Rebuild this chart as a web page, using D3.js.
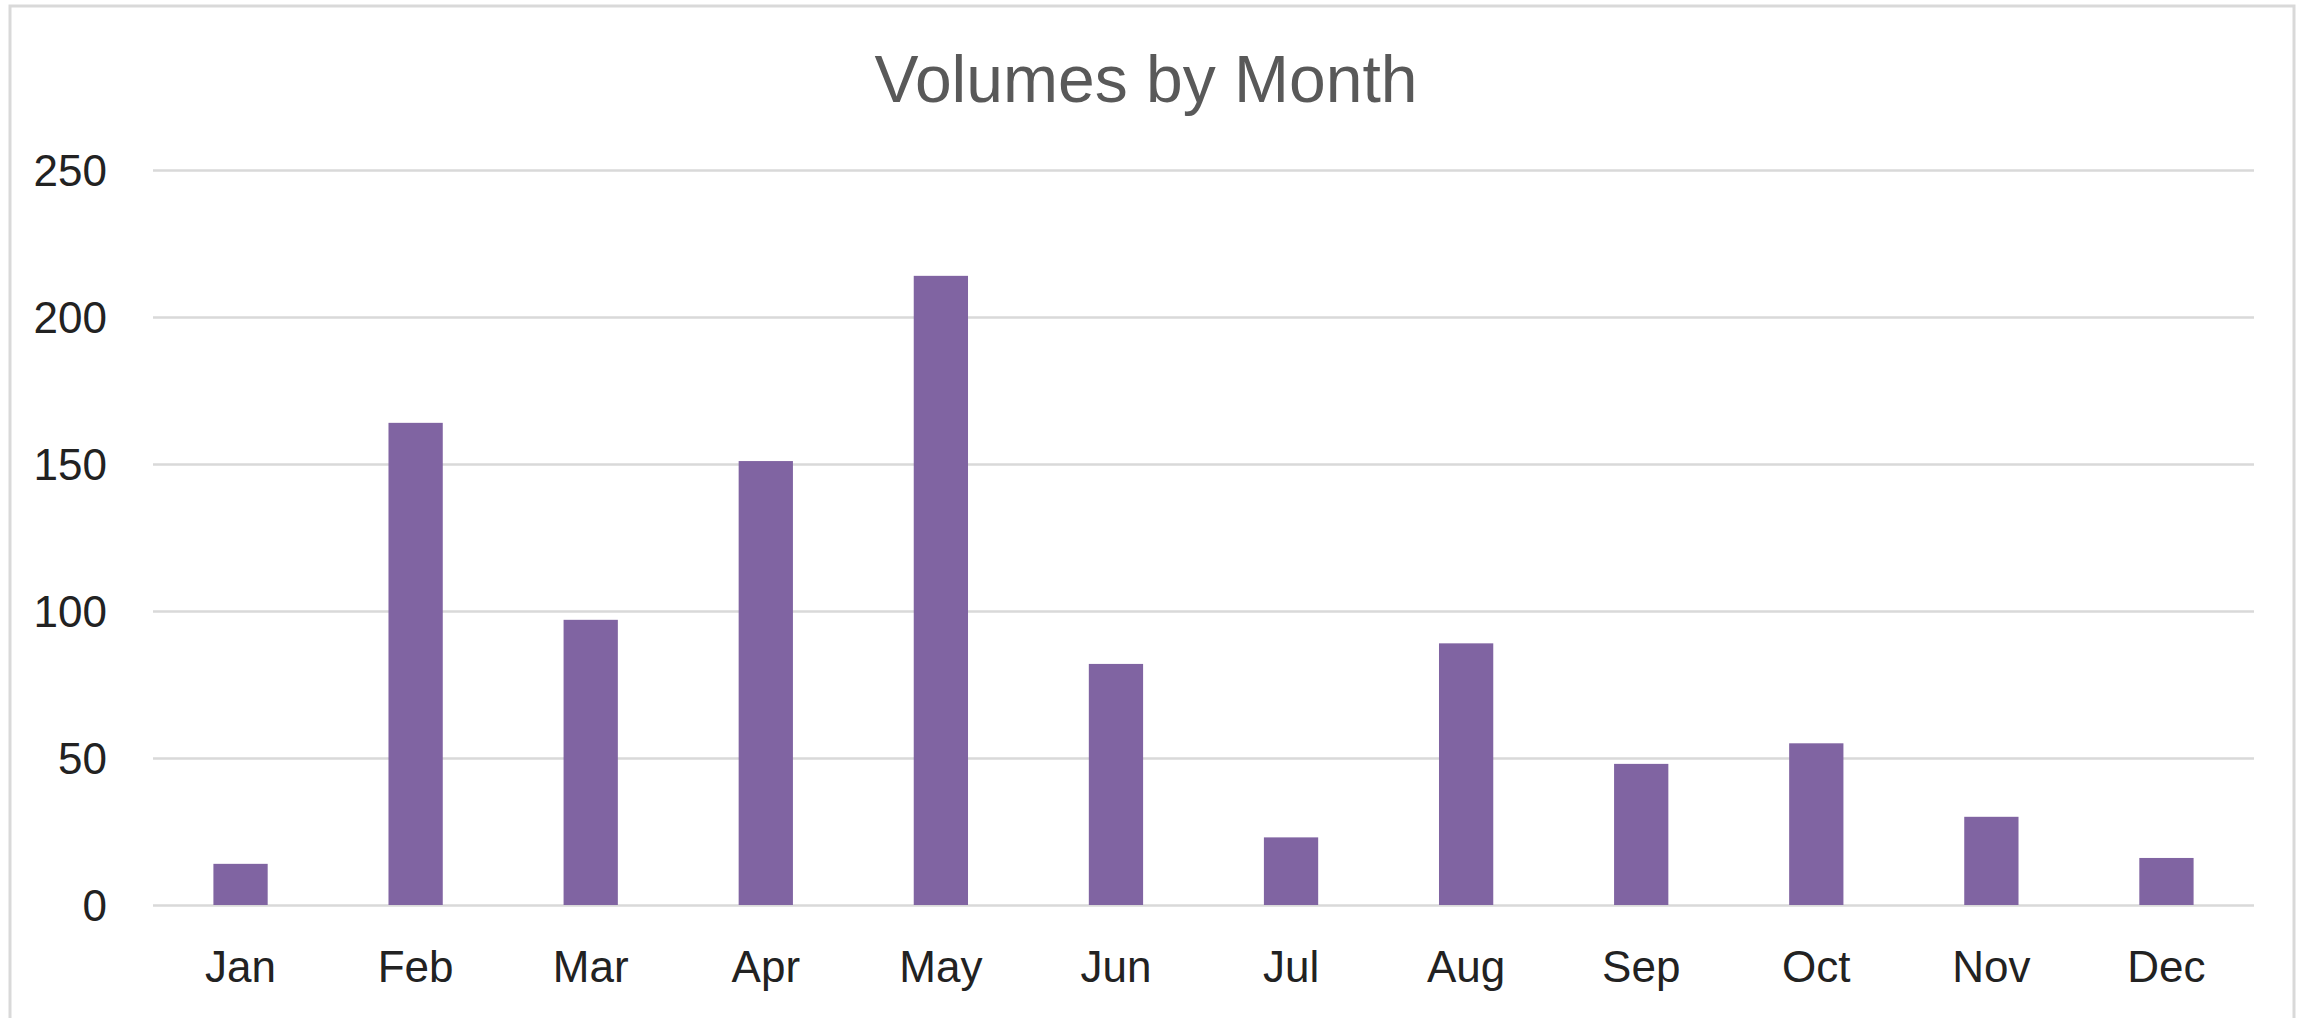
<!DOCTYPE html>
<html>
<head>
<meta charset="utf-8">
<script src="https://cdn.jsdelivr.net/npm/d3@7"></script>
<style>
  html, body { margin: 0; padding: 0; background: #ffffff; }
  svg { display: block; }
</style>
</head>
<body>
<svg id="chart" width="2298" height="1018"></svg>
<script>
const title = "Volumes by Month";
const months = ["Jan", "Feb", "Mar", "Apr", "May", "Jun", "Jul", "Aug", "Sep", "Oct", "Nov", "Dec"];
const volumes = [14, 164, 97, 151, 214, 82, 23, 89, 48, 55, 30, 16];
const yTicks = [0, 50, 100, 150, 200, 250];

const W = 2298, H = 1018;
const plot = { left: 153, right: 2254, top: 170, bottom: 905 };
const font = "'Liberation Sans', Arial, sans-serif";

const svg = d3.select("#chart");

svg.append("rect")
  .attr("x", 10).attr("y", 6)
  .attr("width", 2284).attr("height", 1040)
  .attr("fill", "#ffffff")
  .attr("stroke", "#d9d9d9")
  .attr("stroke-width", 3);

const x = d3.scaleBand()
  .domain(months)
  .range([plot.left, plot.right])
  .paddingInner(0.69)
  .paddingOuter(0.345);

const y = d3.scaleLinear()
  .domain([0, 250])
  .range([plot.bottom, plot.top]);

// gridlines
const grid = svg.append("g")
  .attr("transform", `translate(${plot.left},0)`)
  .call(d3.axisLeft(y).tickValues(yTicks).tickSize(-(plot.right - plot.left)).tickFormat(""));
grid.select(".domain").remove();
grid.selectAll(".tick line").attr("stroke", "#d9d9d9").attr("stroke-width", 2.5);

// bars
svg.append("g").selectAll("rect")
  .data(months.map((m, i) => ({ m, v: volumes[i] })))
  .join("rect")
  .attr("x", d => x(d.m))
  .attr("width", x.bandwidth())
  .attr("y", d => y(d.v))
  .attr("height", d => y(0) - y(d.v))
  .attr("fill", "#8064a2");

// y axis labels
const yAxis = svg.append("g")
  .attr("transform", `translate(107,0)`)
  .call(d3.axisLeft(y).tickValues(yTicks).tickSize(0).tickPadding(0));
yAxis.select(".domain").remove();
yAxis.selectAll("text")
  .attr("font-family", font)
  .attr("font-size", 44)
  .attr("fill", "#222222")
  .attr("dy", "0.36em");

// x axis labels
const xAxis = svg.append("g")
  .attr("transform", `translate(0,${plot.bottom})`)
  .call(d3.axisBottom(x).tickSize(0).tickPadding(0));
xAxis.select(".domain").remove();
xAxis.selectAll("text")
  .attr("font-family", font)
  .attr("font-size", 44)
  .attr("fill", "#222222")
  .attr("dy", null)
  .attr("y", 77);

// title
svg.append("text")
  .attr("x", 1146)
  .attr("y", 102)
  .attr("text-anchor", "middle")
  .attr("font-family", font)
  .attr("font-size", 66)
  .attr("fill", "#595959")
  .text(title);
</script>
</body>
</html>
